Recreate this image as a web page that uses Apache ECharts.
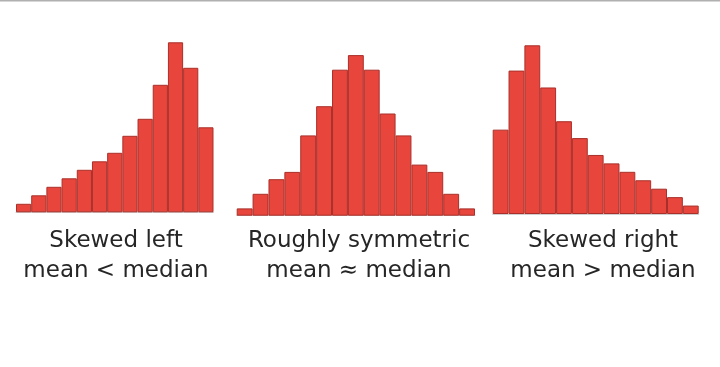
<!DOCTYPE html>
<html>
<head>
<meta charset="utf-8">
<script src="https://cdn.jsdelivr.net/npm/echarts@6/dist/echarts.min.js"></script>
<style>html,body{margin:0;padding:0;background:#fff}#c{width:720px;height:367px}</style>
</head>
<body>
<div id="c"></div>
<script>
const leftBins = ['1','2','3','4','5','6','7','8','9','10','11','12','13'];
const leftVals = [1, 2, 3, 4, 5, 6, 7, 9, 11, 15, 20, 17, 10];
const midBins = ['1','2','3','4','5','6','7','8','9','10','11','12','13','14','15'];
const midVals = [1, 3, 5, 6, 11, 15, 20, 22, 20, 14, 11, 7, 6, 3, 1];
const rightBins = ['1','2','3','4','5','6','7','8','9','10','11','12','13'];
const rightVals = [10, 17, 20, 15, 11, 9, 7, 6, 5, 4, 3, 2, 1];
const labelLine1 = ['Skewed left', 'Roughly symmetric', 'Skewed right'];
const labelLine2 = ['mean < median', 'mean \u2248 median', 'mean > median'];

const fill = '#e8453c';
const edge = '#a9302a';
const panels = [
  {bins: leftBins, vals: leftVals, left: 16, width: 197.5, top: 42.3, height: 170, max: 20, cx: 116},
  {bins: midBins, vals: midVals, left: 236.7, width: 238.3, top: 55.1, height: 160.6, max: 22, cx: 359},
  {bins: rightBins, vals: rightVals, left: 492.7, width: 206, top: 45.3, height: 168.7, max: 20, cx: 603}
];

const grid = [], xAxis = [], yAxis = [], series = [], graphic = [];
const font = '23px "DejaVu Sans"';
panels.forEach((p, i) => {
  grid.push({left: p.left, top: p.top, width: p.width, height: p.height});
  xAxis.push({type: 'category', gridIndex: i, data: p.bins,
    axisLine: {show: true, lineStyle: {color: '#d0d0d0', width: 1}},
    axisTick: {show: false}, axisLabel: {show: false}, splitLine: {show: false}});
  yAxis.push({type: 'value', gridIndex: i, min: 0, max: p.max, show: false, splitLine: {show: false}});
  series.push({type: 'bar', xAxisIndex: i, yAxisIndex: i, data: p.vals,
    barCategoryGap: '0%', silent: true,
    itemStyle: {color: fill, borderColor: edge, borderWidth: 1}});
  graphic.push({type: 'text', x: p.cx, y: 229.5,
    style: {text: labelLine1[i], fill: '#262626', font: font, align: 'center', verticalAlign: 'top'}});
  graphic.push({type: 'text', x: p.cx, y: 259.5,
    style: {text: labelLine2[i], fill: '#262626', font: font, align: 'center', verticalAlign: 'top'}});
});
graphic.push({type: 'rect', shape: {x: 0, y: 0, width: 720, height: 1.5}, style: {fill: '#b0b0b0'}});

const chart = echarts.init(document.getElementById('c'), null, {renderer: 'canvas'});
chart.setOption({animation: false, backgroundColor: '#fff', grid, xAxis, yAxis, series, graphic});
</script>
</body>
</html>
